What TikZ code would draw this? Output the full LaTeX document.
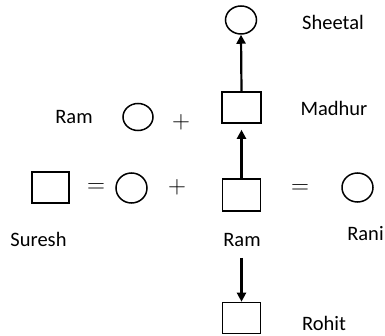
\documentclass[tikz,border=0pt]{standalone}
\usepackage{fontspec}
\setmainfont{Carlito}
\usetikzlibrary{shapes.geometric,arrows.meta}
\begin{document}
\begin{tikzpicture}[x=1pt,y=-1pt,
  lbl/.style={inner sep=0pt,font=\fontsize{20.5}{24}\selectfont},
  opsign/.style={inner sep=0pt,font=\fontsize{24}{28}\selectfont},
  boxnode/.style={draw,line width=1.6pt,rectangle,inner sep=0pt,minimum width=38pt,minimum height=31pt},
  circnode/.style={draw,line width=1.5pt,ellipse,inner sep=0pt,minimum width=31pt,minimum height=28pt},
  arr/.style={line width=2.2pt,-{Triangle[length=9pt,width=9pt]}}]
\useasboundingbox (0,0) rectangle (385,336);
% shapes
\node[circnode] (sheetalc) at (241,20) {};
\node[boxnode,minimum width=39pt] (madhurb) at (241.5,107.5) {};
\node[circnode,minimum width=30pt,minimum height=27pt] (ramc) at (138,117) {};
\node[opsign] (plus1) at (181,122) {$+$};
\node[boxnode,minimum width=37pt] (sureshb) at (50.5,187.5) {};
\node[opsign] (eq1) at (96,188) {$=$};
\node[circnode,minimum height=30pt] (circ2) at (131.5,188) {};
\node[opsign] (plus2) at (177,187) {$+$};
\node[boxnode,minimum height=32pt] (ramb) at (241.5,195) {};
\node[opsign] (eq2) at (300,189) {$=$};
\node[circnode,minimum height=29pt] (ranic) at (357.5,187.5) {};
\node[boxnode] (rohitb) at (241.5,318) {};
% labels
\node[lbl] (sheetal) at (333,22) {Sheetal};
\node[lbl] (madhur) at (334,108) {Madhur};
\node[lbl] (ramtop) at (74,117) {Ram};
\node[lbl] (suresh) at (38.5,239) {Suresh};
\node[lbl] (rambot) at (242,240) {Ram};
\node[lbl] (rani) at (365.5,234) {Rani};
\node[lbl] (rohit) at (324,323) {Rohit};
% connectors
\coordinate (downstart) at (241.5,258);
\draw[arr] (madhurb.north) -- (sheetalc.south);
\draw[arr,shorten >=6pt] (ramb.north) -- (madhurb.south);
\draw[arr] (downstart) -- (rohitb.north);
\end{tikzpicture}
\end{document}
